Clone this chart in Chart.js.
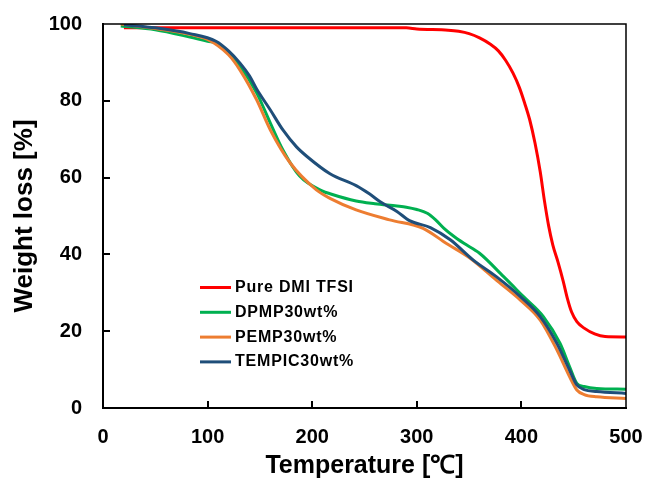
<!DOCTYPE html>
<html>
<head>
<meta charset="utf-8">
<script src="https://cdn.jsdelivr.net/npm/chart.js@4"></script>
<style>
  html, body { margin: 0; padding: 0; background: #fff; }
  #wrap { width: 645px; height: 480px; }
</style>
</head>
<body>
<div id="wrap"><canvas id="tga"></canvas></div>
<script>
const series_labels = ["Pure DMI TFSI", "DPMP30wt%", "PEMP30wt%", "TEMPIC30wt%"];
const series_colours = ["#ff0000", "#00b050", "#ed7d31", "#1f4e79"];

const pure_x = [20, 100, 200, 290, 300, 330, 340, 350, 360, 370, 378, 385, 392, 398, 403, 408, 413, 418, 422, 426, 430, 435, 440, 444, 448, 453, 460, 470, 480, 500];
const pure_y = [99, 99, 99, 99, 98.7, 98.4, 98.1, 97.5, 96.4, 94.8, 93, 90.5, 87.2, 83.5, 79.5, 75, 69, 61.5, 54, 47.5, 42.5, 38, 33, 28.5, 25, 22.5, 20.8, 19.3, 18.6, 18.5];

const dpmp_x = [17, 50, 83, 100, 109, 120, 131, 147, 160, 172, 188, 210, 217, 242, 260, 281, 290, 300, 310, 318, 326, 335, 345, 360, 383, 402, 421, 437, 446, 453, 460, 472, 500];
const dpmp_y = [99.5, 98.5, 96.6, 95.5, 95, 92.5, 89, 82, 74.2, 67.2, 60.4, 56.5, 55.8, 53.9, 53.2, 52.6, 52.3, 51.7, 50.7, 49, 46.8, 44.8, 42.9, 40.3, 34.2, 29, 23.8, 16.8, 10.8, 6.4, 5.6, 5.1, 4.9];

const pemp_x = [17, 50, 83, 100, 120, 131, 147, 160, 179, 204, 217, 242, 274, 306, 328, 351, 376, 399, 418, 434, 446, 453, 460, 472, 500];
const pemp_y = [100, 98.8, 97.3, 96, 92, 88, 80.2, 72.4, 63.8, 56.8, 54.6, 51.6, 49, 46.8, 42.9, 39, 33.3, 28.1, 22.9, 15.1, 8.2, 4.7, 3.5, 2.9, 2.5];

const tempic_x = [20, 50, 83, 108, 120, 131, 140, 147, 160, 172, 185, 195, 217, 242, 255, 265, 281, 293, 313, 332, 354, 376, 399, 418, 434, 446, 453, 460, 472, 500];
const tempic_y = [99.8, 99, 97.5, 95.5, 93, 89.8, 86.5, 83, 77.6, 72.4, 68, 65.5, 61, 57.9, 55.7, 53.7, 51.2, 48.8, 47, 43.8, 38.5, 34.2, 29, 23.8, 16.8, 9.9, 6, 4.8, 4.3, 3.8];

const x_ticks = [0, 100, 200, 300, 400, 500];
const y_ticks = [0, 20, 40, 60, 80, 100];

const all_x = [pure_x, dpmp_x, pemp_x, tempic_x];
const all_y = [pure_y, dpmp_y, pemp_y, tempic_y];

const font_family = "'Liberation Sans', Arial, sans-serif";

// inward tick marks, box frame and the legend inside the plot
const frame_plugin = {
  id: "frame",
  afterDatasetsDraw(chart) {
    const { ctx, chartArea: a, scales } = chart;
    ctx.save();
    ctx.strokeStyle = "#000";
    ctx.lineWidth = 1.5;
    ctx.beginPath();
    ctx.moveTo(a.left, a.top);
    ctx.lineTo(a.right, a.top);
    ctx.lineTo(a.right, a.bottom);
    ctx.stroke();

    ctx.lineWidth = 2;
    ctx.beginPath();
    x_ticks.slice(1, -1).forEach(v => {
      const px = Math.round(scales.x.getPixelForValue(v));
      ctx.moveTo(px, a.bottom);
      ctx.lineTo(px, a.bottom - 7);
    });
    y_ticks.slice(1, -1).forEach(v => {
      const py = Math.round(scales.y.getPixelForValue(v));
      ctx.moveTo(a.left, py);
      ctx.lineTo(a.left + 7, py);
    });
    ctx.stroke();

    // legend
    ctx.font = "bold 16px " + font_family;
    ctx.letterSpacing = "0.8px";
    ctx.textBaseline = "middle";
    ctx.fillStyle = "#000";
    series_labels.forEach((label, i) => {
      const y = 287.5 + i * 24.8;
      ctx.strokeStyle = series_colours[i];
      ctx.lineWidth = 3;
      ctx.beginPath();
      ctx.moveTo(200, y);
      ctx.lineTo(231, y);
      ctx.stroke();
      ctx.fillText(label, 235, y);
    });
    ctx.restore();
  }
};

const datasets = series_labels.map((label, i) => ({
  label: label,
  data: all_x[i].map((x, j) => ({ x: x, y: all_y[i][j] })),
  borderColor: series_colours[i],
  backgroundColor: series_colours[i],
  borderWidth: 3,
  pointRadius: 0,
  cubicInterpolationMode: "monotone",
  fill: false,
  order: series_labels.length - i
}));

new Chart(document.getElementById("tga").getContext("2d"), {
  type: "line",
  data: { datasets: datasets },
  options: {
    responsive: true,
    maintainAspectRatio: false,
    animation: false,
    layout: { padding: { top: 24, right: 19, left: 0, bottom: 0 } },
    plugins: {
      legend: { display: false },
      tooltip: { enabled: false }
    },
    scales: {
      x: {
        type: "linear",
        min: 0,
        max: 500,
        afterBuildTicks: axis => { axis.ticks = x_ticks.map(v => ({ value: v })); },
        afterFit: axis => {
          axis.height = 72;
          axis.paddingLeft = 0;
          axis.paddingRight = 0;
        },
        grid: { display: false, drawTicks: false },
        border: { display: true, color: "#000", width: 2 },
        ticks: {
          color: "#000",
          padding: 17,
          maxRotation: 0,
          font: { family: font_family, size: 20, weight: "bold" }
        },
        title: {
          display: true,
          text: "Temperature [℃]",
          color: "#000",
          padding: { top: 0, bottom: 1 },
          font: { family: font_family, size: 25, weight: "bold", lineHeight: 1 }
        }
      },
      y: {
        min: 0,
        max: 100,
        afterBuildTicks: axis => { axis.ticks = y_ticks.map(v => ({ value: v })); },
        afterFit: axis => {
          axis.width = 103;
          axis.paddingTop = 0;
          axis.paddingBottom = 0;
        },
        grid: { display: false, drawTicks: false },
        border: { display: true, color: "#000", width: 2 },
        ticks: {
          color: "#000",
          padding: 21,
          font: { family: font_family, size: 20, weight: "bold" }
        },
        title: {
          display: true,
          text: "Weight loss [%]",
          color: "#000",
          padding: { top: 12, bottom: 0 },
          font: { family: font_family, size: 26, weight: "bold", lineHeight: 1 }
        }
      }
    }
  },
  plugins: [frame_plugin]
});
</script>
</body>
</html>
